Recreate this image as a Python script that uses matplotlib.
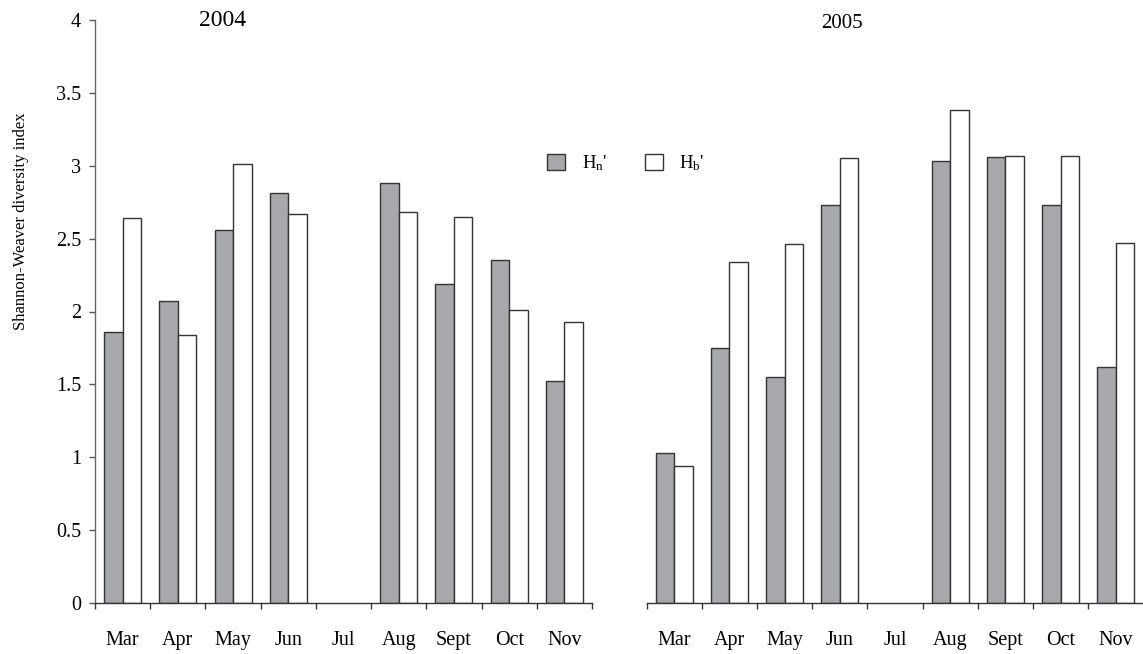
import numpy as np
from matplotlib import pyplot as plt
from matplotlib.patches import Patch

months = ['Mar', 'Apr', 'May', 'Jun', 'Jul', 'Aug', 'Sept', 'Oct', 'Nov']
years = ['2004', '2005']

# Jul was not sampled in either year
hn_2004 = [1.86, 2.07, 2.56, 2.81, np.nan, 2.88, 2.19, 2.35, 1.52]
hb_2004 = [2.64, 1.84, 3.01, 2.67, np.nan, 2.68, 2.65, 2.01, 1.93]
hn_2005 = [1.03, 1.75, 1.55, 2.73, np.nan, 3.03, 3.06, 2.73, 1.62]
hb_2005 = [0.94, 2.34, 2.46, 3.05, np.nan, 3.38, 3.07, 3.07, 2.47]

y_ticks = [0, 0.5, 1, 1.5, 2, 2.5, 3, 3.5, 4]
y_tick_labels = ['0', '0.5', '1', '1.5', '2', '2.5', '3', '3.5', '4']

grey = '#a7a8ab'
edge = '#333333'
serif = ['Liberation Serif', 'DejaVu Serif']
plt.rcParams['font.family'] = serif
plt.rcParams['mathtext.fontset'] = 'custom'
plt.rcParams['mathtext.rm'] = 'Liberation Serif'
plt.rcParams['mathtext.it'] = 'Liberation Serif'

W, H = 1143, 654
fig = plt.figure(figsize=(W / 100, H / 100), dpi=100)

bottom = 51 / H
height = 583 / H
ax1 = fig.add_axes([95 / W, bottom, 497 / W, height])
ax2 = fig.add_axes([646.5 / W, bottom, 497 / W, height])

width = 0.335
x = np.arange(len(months))


def draw_panel(ax, hn, hb):
    ax.bar(x - width / 2, hn, width, color=grey, edgecolor=edge, linewidth=1.0)
    ax.bar(x + width / 2, hb, width, color='white', edgecolor=edge, linewidth=1.0)
    ax.set_xlim(-0.5, len(months) - 0.5)
    ax.set_ylim(0, 4)
    ax.set_xticks(x)
    ax.set_xticklabels(months, fontsize=14.5)
    ax.set_xticks(np.arange(len(months) + 1) - 0.5, minor=True)
    ax.tick_params(axis='x', which='major', length=0, pad=20)
    ax.tick_params(axis='x', which='minor', length=4, width=1, color='#333333', direction='out')
    for s in ('top', 'right'):
        ax.spines[s].set_visible(False)
    ax.spines['bottom'].set_color('#333333')
    ax.spines['bottom'].set_linewidth(1)


draw_panel(ax1, hn_2004, hb_2004)
draw_panel(ax2, hn_2005, hb_2005)

ax1.set_yticks(y_ticks)
ax1.set_yticklabels(y_tick_labels, fontsize=14.5)
ax1.tick_params(axis='y', length=4, width=1, color='#555555', pad=6)
ax1.spines['left'].set_color('#666666')
ax1.spines['left'].set_linewidth(1)
ax1.set_ylabel('Shannon-Weaver diversity index', fontsize=12)
ax1.yaxis.set_label_coords(-0.133, 0.655)

ax2.spines['left'].set_visible(False)
ax2.set_yticks([])

fig.text(223 / W, 1 - 20 / H, years[0], fontsize=17, ha='center', va='center')
fig.text(842 / W, 1 - 23 / H, years[1], fontsize=15, ha='center', va='center')

handles = [Patch(facecolor=grey, edgecolor=edge, linewidth=1),
           Patch(facecolor='white', edgecolor=edge, linewidth=1)]
fig.legend(handles, ["H$_\\mathrm{n}$'", "H$_\\mathrm{b}$'"], ncol=2, frameon=False,
           fontsize=13.5, handlelength=0.95, handleheight=0.95, handletextpad=0.9,
           columnspacing=2.0, loc='center', bbox_to_anchor=(626 / W, 1 - 163 / H))

fig.savefig('out.png', dpi=100)
